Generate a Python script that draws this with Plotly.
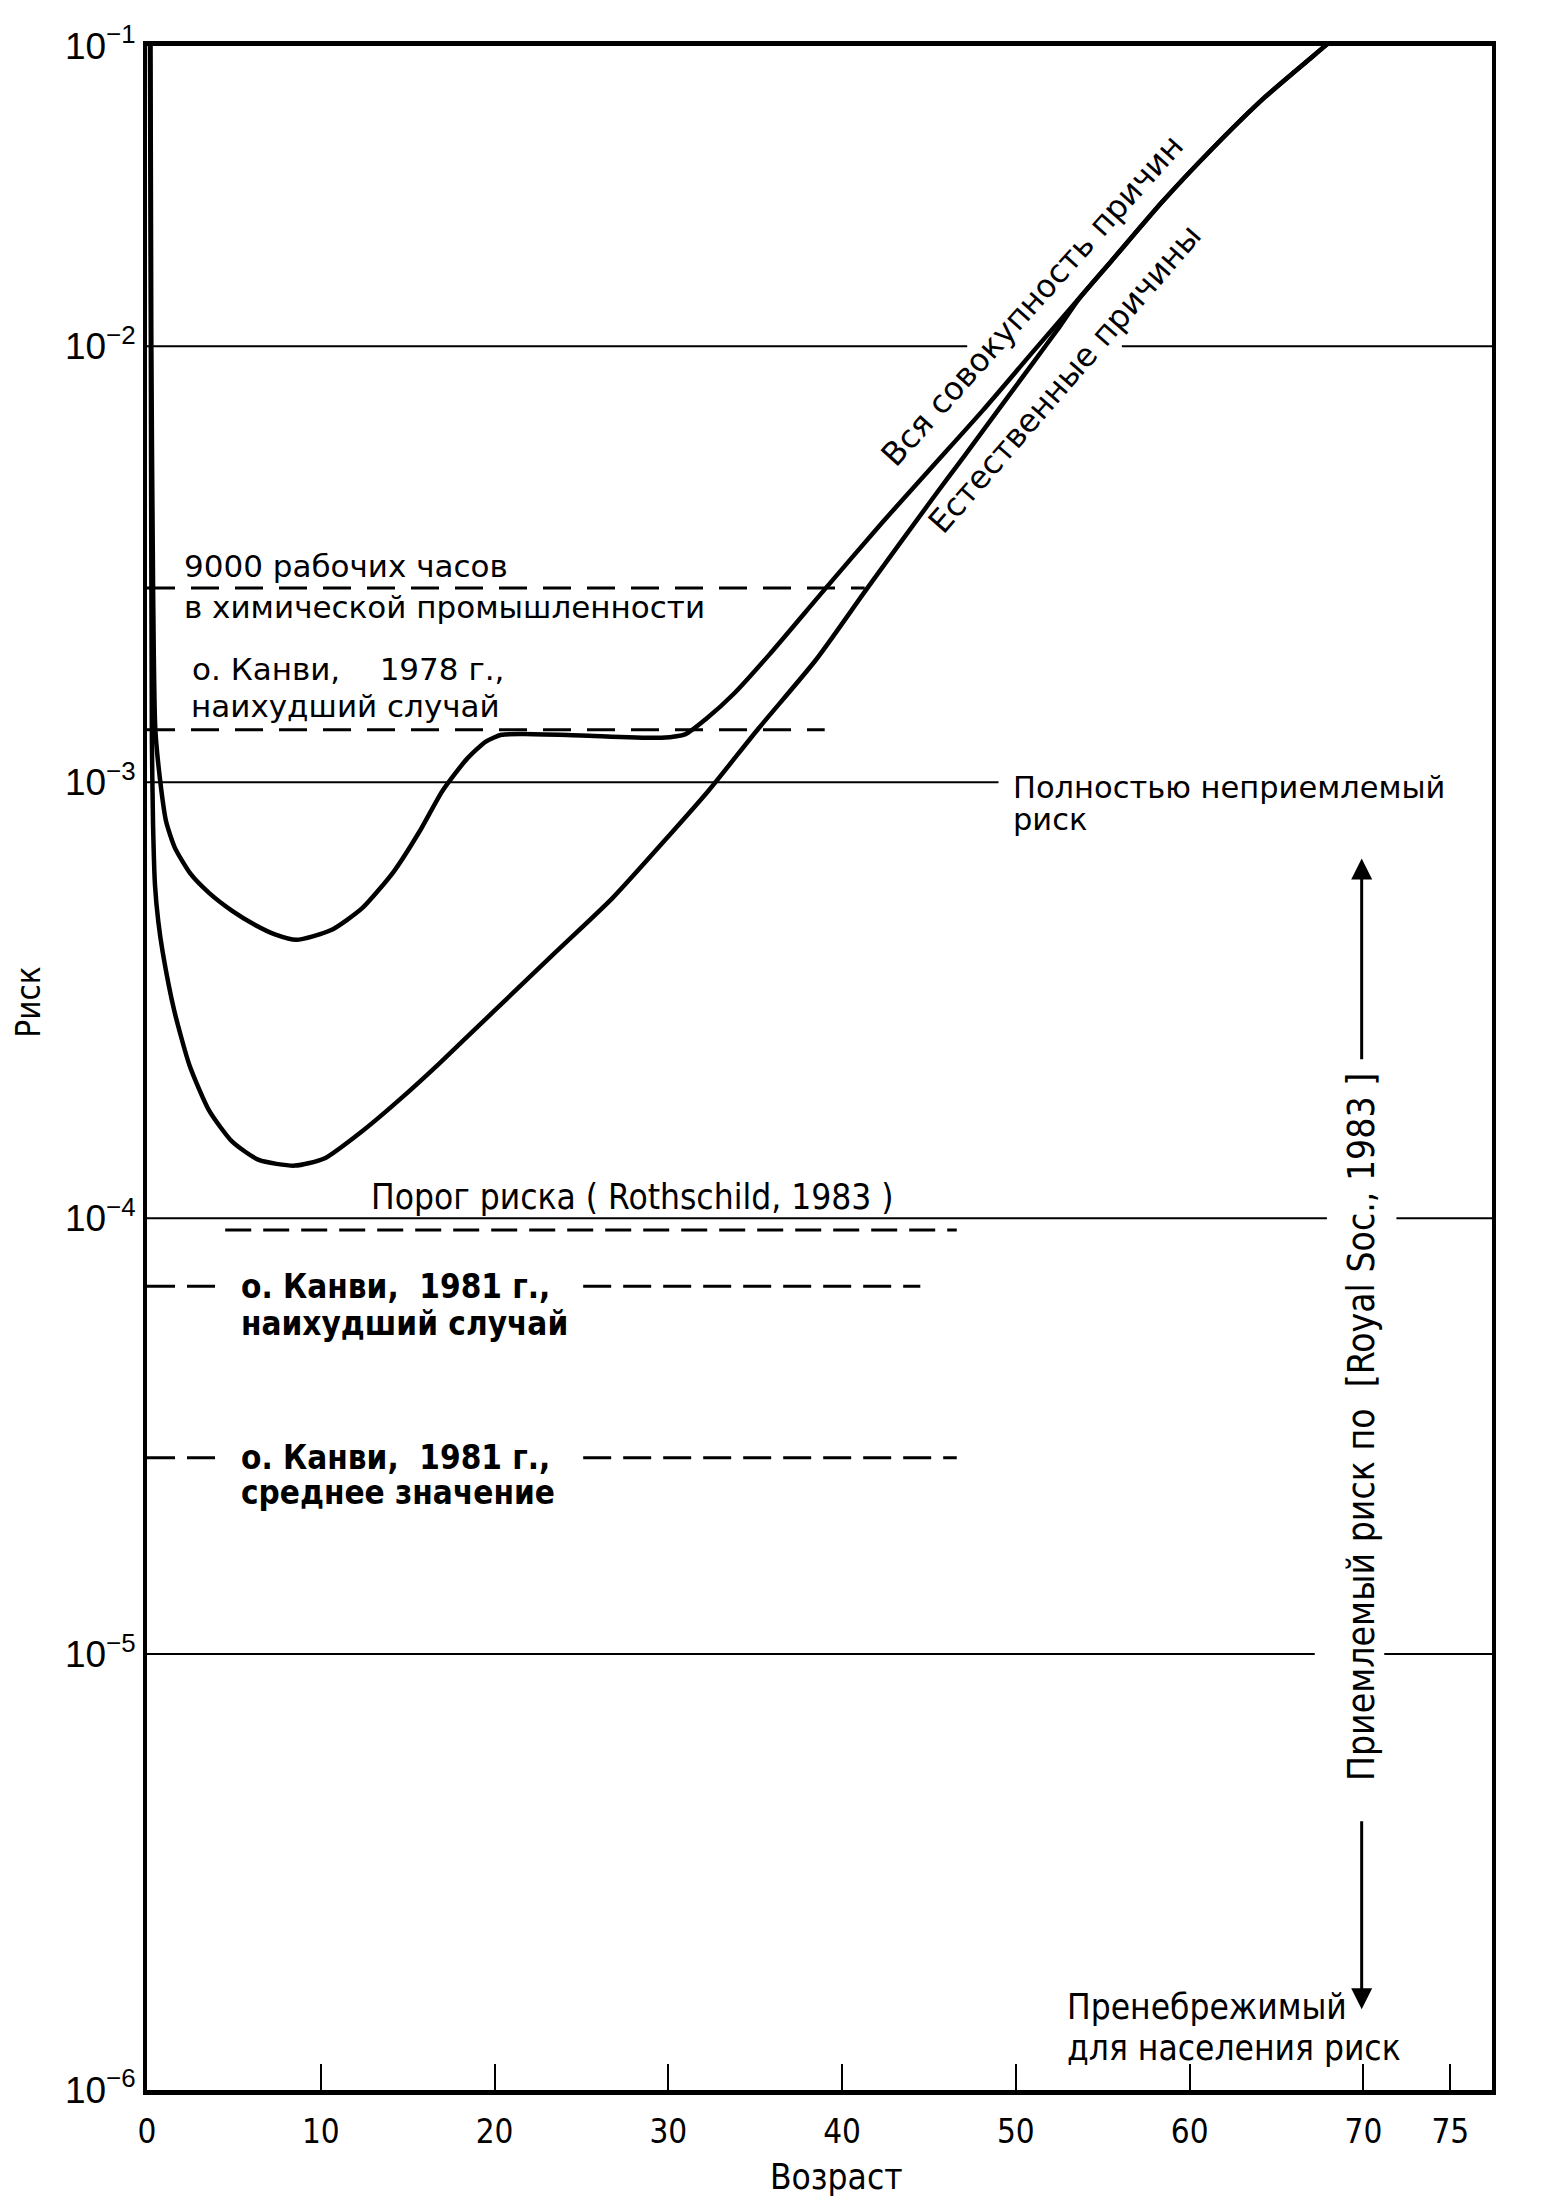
import math
import plotly.graph_objects as go

# all causes of death (upper curve)
age_all = [0.18, 0.25, 0.35, 0.48, 0.8, 1.1, 1.6, 2.5, 3.6, 4.9, 6.2, 7.4, 8.6, 10.6, 12.4,
           14.2, 15.7, 17.0, 18.4, 19.5, 20.4, 21.7, 25.0, 29.6, 31.0, 32.2, 33.8, 35.8,
           39.0, 42.3, 45.2, 48.1, 51.1, 55.5, 58.4, 61.3, 64.3, 67.8, 69.0]
risk_all = [1e-1, 1e-2, 2.82e-3, 1.32e-3, 9.77e-4, 8.13e-4, 7.08e-4, 6.17e-4, 5.56e-4, 5.07e-4,
            4.71e-4, 4.47e-4, 4.35e-4, 4.58e-4, 5.15e-4, 6.24e-4, 7.73e-4, 9.55e-4, 1.13e-3,
            1.24e-3, 1.285e-3, 1.29e-3, 1.28e-3, 1.265e-3, 1.29e-3, 1.40e-3, 1.60e-3, 1.96e-3,
            2.77e-3, 3.94e-3, 5.30e-3, 7.13e-3, 9.84e-3, 1.57e-2, 2.14e-2, 2.84e-2, 3.72e-2,
            4.89e-2, 5.37e-2]

# natural causes (lower curve)
age_nat = [0.15, 0.22, 0.28, 0.35, 0.46, 0.65, 0.91, 1.57, 2.45, 3.56, 4.89, 6.43, 8.5, 10.2,
           12.4, 14.6, 16.8, 20.1, 23.5, 26.8, 30.1, 32.3, 35.2, 38.5, 41.4, 45.2, 47.0, 49.0,
           51.0, 52.5, 53.6, 55.5, 58.4, 61.3, 64.3, 67.8, 69.0]
risk_nat = [1e-1, 1e-2, 1.26e-3, 7.94e-4, 5.81e-4, 4.79e-4, 4.06e-4, 2.99e-4, 2.24e-4, 1.77e-4,
            1.50e-4, 1.36e-4, 1.32e-4, 1.37e-4, 1.585e-4, 1.88e-4, 2.26e-4, 3.02e-4, 4.07e-4,
            5.43e-4, 7.59e-4, 9.55e-4, 1.33e-3, 1.91e-3, 2.77e-3, 4.47e-3, 5.58e-3, 7.16e-3,
            9.18e-3, 1.107e-2, 1.28e-2, 1.57e-2, 2.14e-2, 2.84e-2, 3.72e-2, 4.89e-2, 5.37e-2]

# solid reference levels and the age spans they are drawn over
grid_risk = [1e-2, 1e-3, 1e-4, 1e-5]
grid_spans = [[(0, 47.2), (56.1, 77.4)],
              [(0, 49.0)],
              [(0, 67.9), (71.9, 77.4)],
              [(0, 67.2), (71.2, 77.4)]]

# dashed reference levels
ref_risk = [2.79e-3, 1.32e-3, 9.4e-5, 6.98e-5, 2.82e-5]
ref_spans = [[(0, 41.3)],
             [(0, 39.0)],
             [(4.5, 46.6)],
             [(0, 4.0), (25.1, 44.5)],
             [(0, 4.0), (25.1, 46.6)]]
ref_dash = ["28px,16px", "28px,16px", "26px,12px", "28px,12px", "28px,12px"]

x_ticks = [0, 10, 20, 30, 40, 50, 60, 70, 75]
y_ticks = [1e-6, 1e-5, 1e-4, 1e-3, 1e-2, 10 ** -1.311]
y_ticktext = ["10<sup>−6</sup>", "10<sup>−5</sup>", "10<sup>−4</sup>", "10<sup>−3</sup>",
              "10<sup>−2</sup>", "10<sup>−1</sup>"]

WIDE = "DejaVu Sans"
NARROW = "DejaVu Sans Condensed, Liberation Sans Narrow, Roboto Condensed, Arial Narrow, sans-serif"

# text labels: text, age, risk, font, size, bold
labels = [
    ("9000 рабочих часов", 2.0, 3.13e-3, WIDE, 31, False),
    ("в химической промышленности", 2.0, 2.53e-3, WIDE, 31, False),
    ("о. Канви,\u00a0\u00a0\u00a0 1978 г.,", 2.5, 1.82e-3, WIDE, 31, False),
    ("наихудший случай", 2.4, 1.50e-3, WIDE, 31, False),
    ("Полностью неприемлемый", 49.7, 9.73e-4, WIDE, 30.5, False),
    ("риск", 49.7, 8.22e-4, WIDE, 30.5, False),
    ("Порог риска ( Rothschild, 1983 )", 12.8, 1.12e-4, NARROW, 35, False),
    ("о. Канви,\u00a0 1981 г.,", 5.3, 6.98e-5, NARROW, 33, True),
    ("наихудший случай", 5.3, 5.73e-5, NARROW, 33, True),
    ("о. Канви,\u00a0 1981 г.,", 5.3, 2.82e-5, NARROW, 33, True),
    ("среднее значение", 5.3, 2.35e-5, NARROW, 33, True),
    ("Пренебрежимый", 52.8, 1.55e-6, NARROW, 35, False),
    ("для населения риск", 52.8, 1.25e-6, NARROW, 35, False),
]

fig = go.Figure()

for risk, spans in zip(grid_risk, grid_spans):
    xs, ys = [], []
    for a, b in spans:
        xs += [a, b, None]
        ys += [risk, risk, None]
    fig.add_trace(go.Scatter(x=xs, y=ys, mode="lines", line=dict(color="black", width=2),
                             hoverinfo="skip", showlegend=False))

for risk, spans, dash in zip(ref_risk, ref_spans, ref_dash):
    xs, ys = [], []
    for a, b in spans:
        xs += [a, b, None]
        ys += [risk, risk, None]
    fig.add_trace(go.Scatter(x=xs, y=ys, mode="lines", line=dict(color="black", width=3, dash=dash),
                             hoverinfo="skip", showlegend=False))

fig.add_trace(go.Scatter(x=age_nat, y=risk_nat, mode="lines", name="Естественные причины",
                         line=dict(color="black", width=4.5, shape="spline", smoothing=0.6),
                         showlegend=False))
fig.add_trace(go.Scatter(x=age_all, y=risk_all, mode="lines", name="Вся совокупность причин",
                         line=dict(color="black", width=4.5, shape="spline", smoothing=0.6),
                         showlegend=False))

for text, age, risk, fam, size, bold in labels:
    fig.add_annotation(x=age, y=math.log10(risk), text="<b>%s</b>" % text if bold else text,
                       showarrow=False, xanchor="left", yanchor="middle",
                       font=dict(family=fam, size=size, color="black"))

# labels along the curves
fig.add_annotation(x=50.9, y=-1.895, text="Вся совокупность причин", textangle=-48,
                   showarrow=False, font=dict(family=WIDE, size=32, color="black"))
fig.add_annotation(x=52.8, y=-2.075, text="Естественные причины", textangle=-49,
                   showarrow=False, font=dict(family=WIDE, size=32, color="black"))

# acceptable risk band on the right
fig.add_annotation(x=69.9, y=-4.48, text="Приемлемый риск по\u00a0 [Royal Soc., 1983 ]",
                   textangle=-90, showarrow=False,
                   font=dict(family=NARROW, size=37, color="black"))
fig.add_annotation(x=69.9, y=-3.175, ax=69.9, ay=-3.639, axref="x", ayref="y", text="",
                   showarrow=True, arrowhead=2, arrowsize=1.4, arrowwidth=3, arrowcolor="black")
fig.add_annotation(x=69.9, y=-5.815, ax=69.9, ay=-5.38, axref="x", ayref="y", text="",
                   showarrow=True, arrowhead=2, arrowsize=1.4, arrowwidth=3, arrowcolor="black")

# axis titles
fig.add_annotation(x=39.7, xref="x", y=0, yref="paper", yshift=-87, yanchor="middle",
                   text="Возраст", showarrow=False,
                   font=dict(family=NARROW, size=35, color="black"))
fig.add_annotation(x=0, xref="paper", xshift=-140, y=math.log10(3.13e-4), yref="y", text="Риск",
                   textangle=-90, showarrow=False, font=dict(family=NARROW, size=33, color="black"))

# the page body adds an 8 px margin, so the figure is 8 px smaller than the window
fig.update_layout(
    width=1537, height=2200,
    margin=dict(l=139, r=53, t=34, b=118),
    paper_bgcolor="white", plot_bgcolor="white",
    showlegend=False,
)
fig.update_xaxes(range=[0, 77.4], showgrid=False, zeroline=False,
                 showline=True, linewidth=4.5, linecolor="black", mirror=True,
                 tickvals=x_ticks, ticks="inside", ticklen=26, tickwidth=2, tickcolor="black",
                 ticklabelstandoff=9,
                 tickfont=dict(family=NARROW, size=33, color="black"))
fig.update_yaxes(type="log", range=[-6, -1.311], showgrid=False, zeroline=False,
                 showline=True, linewidth=4, linecolor="black", mirror=True,
                 tickvals=y_ticks, ticktext=y_ticktext, ticks="",
                 tickfont=dict(family="Liberation Sans", size=37, color="black"))

fig.write_html("out.html")
